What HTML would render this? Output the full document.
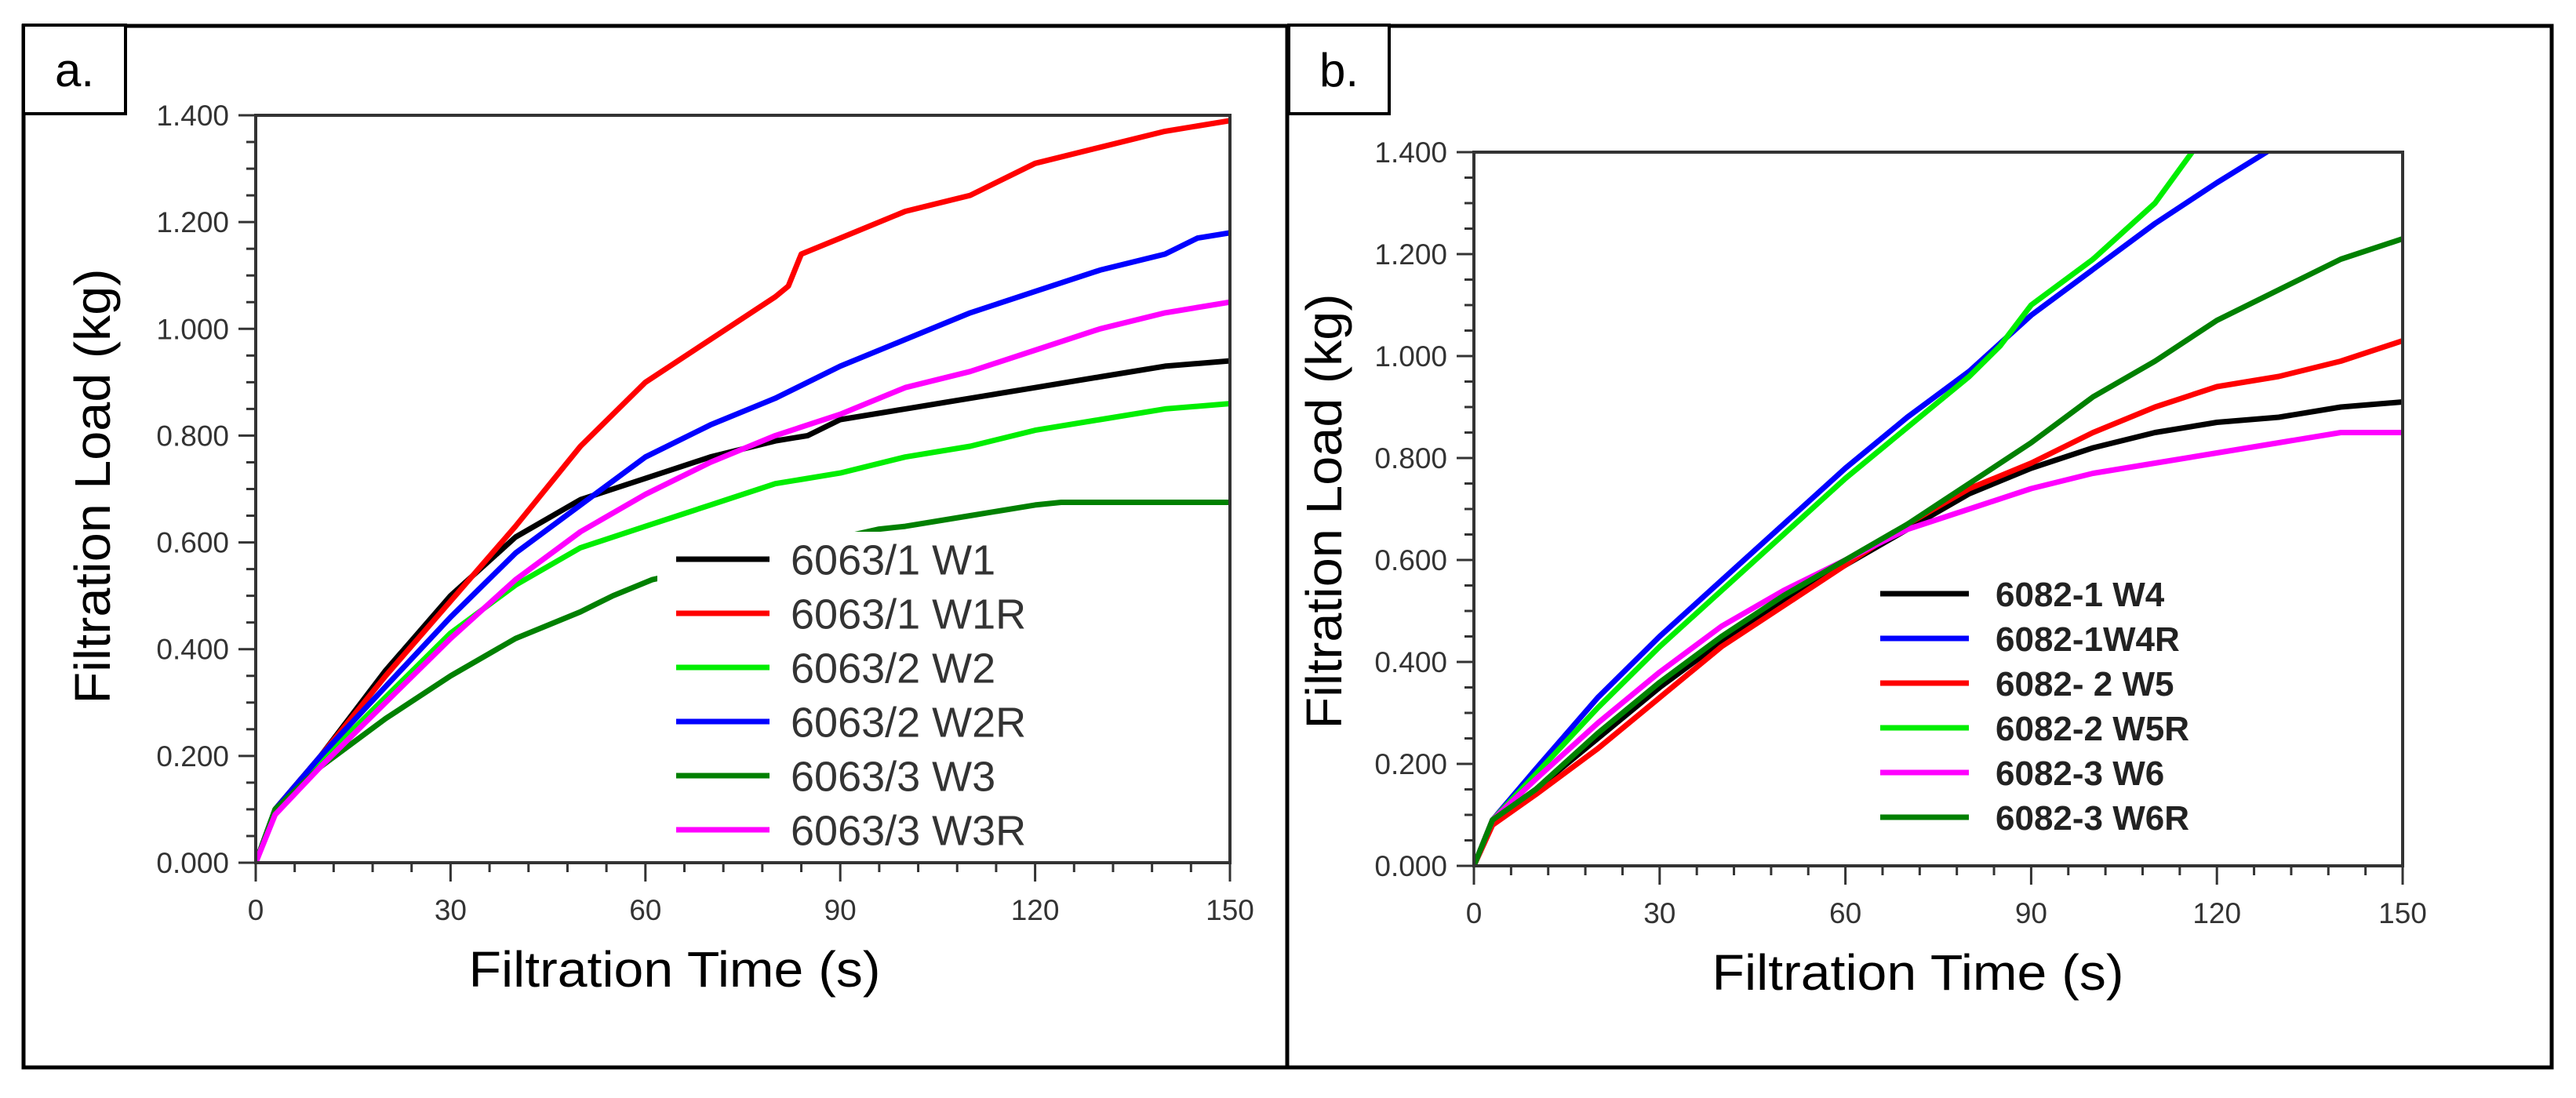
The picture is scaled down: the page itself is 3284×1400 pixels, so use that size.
<!DOCTYPE html>
<html><head><meta charset="utf-8">
<style>
html,body{margin:0;padding:0;background:#fff;}
svg{display:block;font-family:"Liberation Sans",sans-serif;}
</style></head>
<body>
<svg id="fig" width="3284" height="1400" viewBox="0 0 3284 1400" xmlns="http://www.w3.org/2000/svg">
<rect x="0" y="0" width="3284" height="1400" fill="#fff"/>
<rect x="30" y="33" width="1611" height="1328" fill="none" stroke="#000" stroke-width="5"/>
<rect x="1641" y="33" width="1612" height="1328" fill="none" stroke="#000" stroke-width="5"/>
<g>
<rect x="30" y="32" width="130" height="113" fill="#fff" stroke="#000" stroke-width="4"/>
<text x="95" y="110" font-size="60" text-anchor="middle">a.</text></g>
<g>
<rect x="1643" y="32" width="128" height="113" fill="#fff" stroke="#000" stroke-width="4"/>
<text x="1707" y="110" font-size="60" text-anchor="middle">b.</text></g>
<g id="chartA"></g>
<g id="chartB"></g>
</svg>
<script>
// ---- Panel a data ----
const aNames = ["6063/1 W1","6063/1 W1R","6063/2 W2","6063/2 W2R","6063/3 W3","6063/3 W3R"];
const aColors = ["#000000","#ff0000","#00ee00","#0000ff","#008000","#ff00ff"];
const aW1T = [0,3,10,20,30,40,50,60,65,70,80,85,90,100,110,120,130,140,150];
const aW1V = [0,0.1,0.2,0.36,0.5,0.61,0.68,0.72,0.74,0.76,0.79,0.8,0.83,0.85,0.87,0.89,0.91,0.93,0.94];
const aW1RT = [0,3,10,20,30,40,50,60,70,80,82,84,90,100,110,120,130,140,150];
const aW1RV = [0,0.1,0.2,0.35,0.49,0.63,0.78,0.9,0.98,1.06,1.08,1.14,1.17,1.22,1.25,1.31,1.34,1.37,1.39];
const aW2T = [0,3,10,20,30,40,50,60,70,80,90,100,110,120,130,140,150];
const aW2V = [0,0.1,0.19,0.31,0.43,0.52,0.59,0.63,0.67,0.71,0.73,0.76,0.78,0.81,0.83,0.85,0.86];
const aW2RT = [0,3,10,20,30,40,50,60,70,80,90,100,110,120,130,140,145,150];
const aW2RV = [0,0.1,0.2,0.33,0.46,0.58,0.67,0.76,0.82,0.87,0.93,0.98,1.03,1.07,1.11,1.14,1.17,1.18];
const aW3T = [0,3,10,20,30,40,50,55,61,96,100,110,120,124,150];
const aW3V = [0,0.1,0.18,0.27,0.35,0.42,0.47,0.5,0.53,0.625,0.63,0.65,0.67,0.675,0.675];
const aW3RT = [0,3,10,20,30,40,50,60,70,80,90,100,110,120,130,140,150];
const aW3RV = [0,0.09,0.18,0.3,0.42,0.53,0.62,0.69,0.75,0.8,0.84,0.89,0.92,0.96,1.0,1.03,1.05];
// ---- Panel b data ----
const bNames = ["6082-1 W4","6082-1W4R","6082- 2 W5","6082-2 W5R","6082-3 W6","6082-3 W6R"];
const bColors = ["#000000","#0000ff","#ff0000","#00ee00","#ff00ff","#008000"];
const bW4T = [0,3,10,20,30,40,50,60,70,80,90,100,110,120,130,140,150];
const bW4V = [0,0.09,0.15,0.25,0.35,0.44,0.52,0.59,0.66,0.73,0.78,0.82,0.85,0.87,0.88,0.9,0.91];
const bW4RT = [0,3,10,20,30,40,50,60,70,80,90,100,110,120,128,135];
const bW4RV = [0,0.09,0.19,0.33,0.45,0.56,0.67,0.78,0.88,0.97,1.08,1.17,1.26,1.34,1.4,1.46];
const bW5T = [0,3,10,20,30,40,50,60,70,80,90,100,110,120,130,140,150];
const bW5V = [0,0.08,0.14,0.23,0.33,0.43,0.51,0.59,0.67,0.74,0.79,0.85,0.9,0.94,0.96,0.99,1.03];
const bW5RT = [0,3,10,20,30,40,50,60,70,80,85,90,100,110,116,122];
const bW5RV = [0,0.09,0.18,0.31,0.43,0.54,0.65,0.76,0.86,0.96,1.02,1.1,1.19,1.3,1.4,1.48];
const bW6T = [0,3,10,20,30,40,50,60,70,80,90,100,110,120,130,140,150];
const bW6V = [0,0.09,0.17,0.28,0.38,0.47,0.54,0.6,0.66,0.7,0.74,0.77,0.79,0.81,0.83,0.85,0.85];
const bW6RT = [0,3,10,20,30,40,50,60,70,80,90,100,110,120,130,140,150];
const bW6RV = [0,0.09,0.15,0.26,0.36,0.45,0.53,0.6,0.67,0.75,0.83,0.92,0.99,1.07,1.13,1.19,1.23];
const xTicks = [0,30,60,90,120,150];
const yTicks = [0,0.2,0.4,0.6,0.8,1.0,1.2,1.4];
const yTickLabels = ["0.000","0.200","0.400","0.600","0.800","1.000","1.200","1.400"];

const NS = "http://www.w3.org/2000/svg";
function mk(tag, attrs, parent){
  const e = document.createElementNS(NS, tag);
  for (const k in attrs) e.setAttribute(k, attrs[k]);
  parent.appendChild(e); return e;
}
function drawChart(g, id, box, series, names, colors, legend){
  const sx = t => box.x0 + (t/150)*(box.x1-box.x0);
  const sy = v => box.y1 - (v/1.4)*(box.y1-box.y0);
  const clip = mk('clipPath', {id:'clip'+id}, g);
  mk('rect', {x:box.x0, y:box.y0, width:box.x1-box.x0, height:box.y1-box.y0}, clip);
  // series
  const sg = mk('g', {'clip-path':'url(#clip'+id+')'}, g);
  series.forEach((s, i) => {
    const pts = s[0].map((t, j) => sx(t).toFixed(1)+','+sy(s[1][j]).toFixed(1)).join(' ');
    const pl = mk('polyline', {points:pts, fill:'none', stroke:colors[i], 'stroke-width':7, 'stroke-linejoin':'round'}, sg);
    
    
  });
  // legend background
  if (legend.bg){
    const bg = mk('rect', {x:legend.bg[0], y:legend.bg[1], width:legend.bg[2], height:legend.bg[3], fill:'#fff'}, g);
    
    
  }
  // frame
  const fr = mk('rect', {x:box.x0, y:box.y0, width:box.x1-box.x0, height:box.y1-box.y0, fill:'none', stroke:'#333', 'stroke-width':4}, g);
  
  
  // y ticks
  for (let v = 0; v <= 1.4001; v += 0.05){
    const major = Math.abs(v/0.2 - Math.round(v/0.2)) < 1e-6;
    const y = sy(v);
    const tk = mk('line', {x1:box.x0 - (major?22:12), x2:box.x0, y1:y, y2:y, stroke:'#333', 'stroke-width':3}, g);
    
    
  }
  yTicks.forEach((v, i) => {
    const t = mk('text', {x:box.x0-34, y:sy(v)+13, 'font-size':37, fill:'#333', 'text-anchor':'end'}, g);
    t.textContent = yTickLabels[i];
    
    
  });
  // x ticks
  for (let t = 0; t <= 150; t += 6){
    const major = t % 30 === 0;
    const x = sx(t);
    const tk = mk('line', {x1:x, x2:x, y1:box.y1, y2:box.y1 + (major?24:12), stroke:'#333', 'stroke-width':3}, g);
    
    
  }
  xTicks.forEach(v => {
    const t = mk('text', {x:sx(v), y:box.y1+73, 'font-size':37, fill:'#333', 'text-anchor':'middle'}, g);
    t.textContent = String(v);
    
    
  });
  // axis titles
  const xt = mk('text', {x:box.xtX, y:box.y1+158, 'font-size':64, fill:'#000', 'text-anchor':'middle', textLength:525, lengthAdjust:'spacingAndGlyphs'}, g);
  xt.textContent = 'Filtration Time (s)';
  
  
  const yt = mk('text', {x:0, y:0, 'font-size':64, fill:'#000', 'text-anchor':'middle', textLength:555, lengthAdjust:'spacingAndGlyphs', transform:'translate('+box.ytX+','+box.ytY+') rotate(-90)'}, g);
  yt.textContent = 'Filtration Load (kg)';
  
  
  // legend
  names.forEach((n, i) => {
    const y = legend.y0 + i*legend.dy;
    const ln = mk('line', {x1:legend.lx0, x2:legend.lx1, y1:y, y2:y, stroke:colors[i], 'stroke-width':7}, g);
    
    
    const t = mk('text', {x:legend.tx, y:y+legend.fs*0.36, 'font-size':legend.fs, fill:legend.color, 'font-weight':legend.weight}, g);
    t.textContent = n;
    
    
  });
}
drawChart(document.getElementById('chartA'), 'A',
  {x0:326, x1:1568, y0:147, y1:1100, xtX:860, ytX:140, ytY:620},
  [[aW1T,aW1V],[aW1RT,aW1RV],[aW2T,aW2V],[aW2RT,aW2RV],[aW3T,aW3V],[aW3RT,aW3RV]],
  aNames, aColors,
  {bg:[838,678,420,415], y0:713, dy:69, lx0:862, lx1:981, tx:1008, fs:54, color:'#333', weight:'normal'});
drawChart(document.getElementById('chartB'), 'B',
  {x0:1879, x1:3063, y0:194, y1:1104, xtX:2445, ytX:1710, ytY:652},
  [[bW4T,bW4V],[bW4RT,bW4RV],[bW5T,bW5V],[bW5RT,bW5RV],[bW6T,bW6V],[bW6RT,bW6RV]],
  bNames, bColors,
  {bg:null, y0:757, dy:57, lx0:2397, lx1:2510, tx:2544, fs:44, color:'#222', weight:'bold'});
</script>
</body></html>
